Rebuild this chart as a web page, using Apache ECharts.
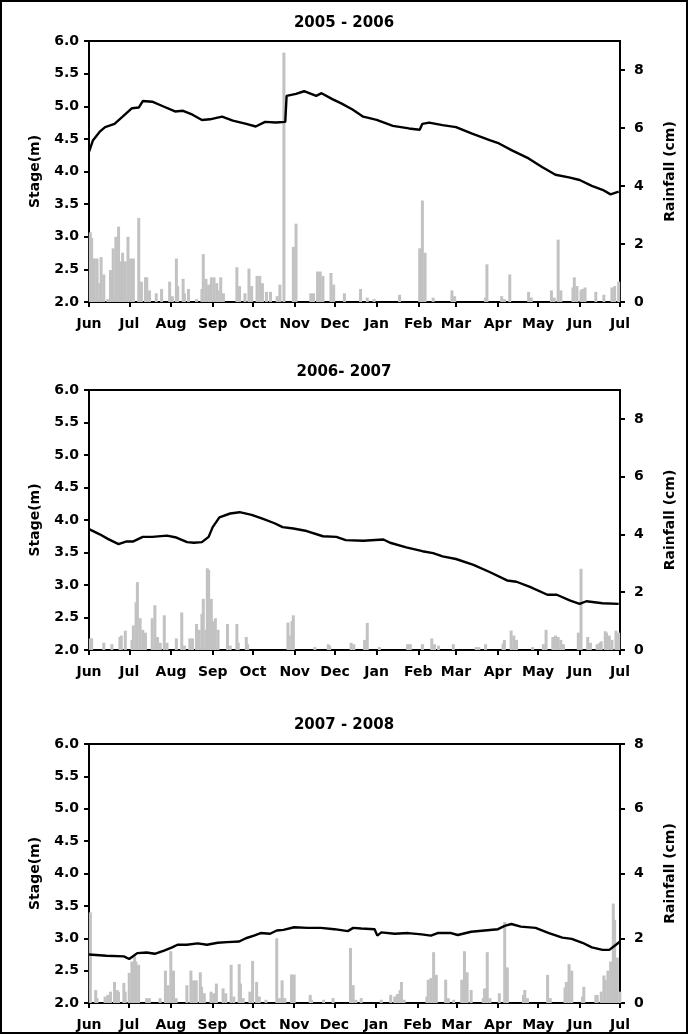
<!DOCTYPE html>
<html>
<head>
<meta charset="utf-8">
<script src="https://cdn.jsdelivr.net/npm/echarts@6.0.0/dist/echarts.min.js"></script>
<style>
  html, body { margin: 0; padding: 0; background: #fff; }
  #chart { width: 688px; height: 1034px; }
</style>
</head>
<body>
<div id="chart"></div>
<script>
// month ticks: day offset from 1 June of each season
const monthNames = ['Jun', 'Jul', 'Aug', 'Sep', 'Oct', 'Nov', 'Dec', 'Jan', 'Feb', 'Mar', 'Apr', 'May', 'Jun', 'Jul'];
const monthDays = [0, 30, 61, 92, 122, 153, 183, 214, 245, 273, 304, 334, 365, 395];
const monthDaysLeap = [0, 30, 61, 92, 122, 153, 183, 214, 245, 274, 305, 335, 366, 396];
const rainTicks = [0, 2, 4, 6, 8];

// 2005 - 2006  [day, stage m] / [day, rainfall cm]
const stage0506 = [[0,4.30],[3,4.48],[8,4.61],[12,4.68],[19,4.73],[25,4.84],[32,4.97],[37,4.98],[40,5.08],[47,5.07],[55,5.00],[64,4.92],[70,4.93],[77,4.87],[84,4.79],[90,4.80],[99,4.84],[107,4.78],[117,4.73],[124,4.69],[131,4.76],[139,4.75],[146,4.76],[147,5.16],[154,5.19],[160,5.23],[169,5.16],[173,5.20],[181,5.11],[188,5.04],[196,4.95],[204,4.84],[214,4.79],[226,4.70],[238,4.66],[246,4.64],[248,4.73],[253,4.75],[263,4.71],[273,4.68],[285,4.58],[298,4.48],[305,4.43],[315,4.32],[327,4.20],[337,4.07],[347,3.95],[357,3.91],[365,3.87],[374,3.78],[382,3.72],[388,3.65],[394,3.69]];
const rain0506 = [[1,2.4],[2,2.2],[4,1.5],[6,1.5],[8,0.65],[9,1.55],[11,0.95],[14,0.1],[16,1.1],[18,1.85],[20,2.25],[22,2.6],[24,1.4],[25,1.7],[27,1.4],[29,2.25],[31,1.5],[33,1.5],[37,2.9],[39,0.7],[42,0.85],[43,0.85],[45,0.4],[50,0.3],[54,0.45],[60,0.7],[62,0.2],[65,1.5],[66,0.55],[70,0.8],[71,0.3],[74,0.45],[80,0.1],[84,0.45],[85,1.65],[87,0.8],[89,0.6],[91,0.85],[93,0.85],[95,0.65],[96,0.4],[98,0.85],[100,0.3],[110,1.2],[112,0.55],[116,0.3],[119,1.15],[121,0.55],[125,0.9],[127,0.9],[129,0.65],[132,0.35],[135,0.35],[140,0.2],[142,0.6],[145,8.6],[152,1.9],[154,2.7],[165,0.3],[167,0.3],[170,1.05],[172,1.05],[174,0.9],[180,1.0],[182,0.6],[190,0.3],[202,0.45],[207,0.15],[212,0.1],[231,0.25],[246,1.85],[248,3.5],[250,1.7],[256,0.15],[270,0.4],[272,0.2],[295,0.15],[296,1.3],[307,0.2],[309,0.1],[313,0.95],[327,0.35],[329,0.15],[344,0.4],[346,0.15],[349,2.15],[351,0.4],[360,0.5],[361,0.85],[363,0.55],[366,0.4],[367,0.45],[369,0.5],[377,0.35],[383,0.25],[389,0.5],[391,0.55],[394,0.7]];

// 2006 - 2007
const stage0607 = [[0,3.86],[8,3.78],[14,3.71],[22,3.63],[28,3.67],[33,3.67],[40,3.74],[47,3.74],[58,3.76],[65,3.73],[73,3.66],[78,3.65],[84,3.66],[89,3.74],[92,3.89],[97,4.04],[105,4.10],[112,4.12],[121,4.08],[129,4.02],[138,3.95],[144,3.89],[152,3.87],[162,3.83],[174,3.75],[184,3.74],[191,3.69],[204,3.68],[219,3.70],[224,3.65],[236,3.58],[248,3.52],[256,3.49],[263,3.44],[273,3.40],[286,3.31],[298,3.20],[311,3.07],[318,3.05],[328,2.97],[341,2.85],[348,2.85],[358,2.76],[365,2.71],[370,2.75],[382,2.72],[394,2.71]];
const rain0607 = [[1,0.4],[2,0.4],[11,0.25],[17,0.2],[23,0.45],[24,0.5],[27,0.67],[32,0.35],[33,0.85],[35,1.65],[36,2.35],[38,1.1],[40,0.7],[42,0.6],[47,1.1],[49,1.55],[51,0.45],[53,0.25],[56,1.2],[58,0.25],[65,0.4],[69,1.3],[71,0.15],[75,0.4],[77,0.4],[80,0.9],[82,0.7],[84,1.25],[85,1.77],[87,0.7],[88,2.83],[89,2.77],[91,1.77],[92,1.0],[94,1.1],[96,0.7],[103,0.9],[105,0.15],[110,0.9],[111,0.25],[117,0.45],[118,0.2],[148,0.95],[149,0.5],[151,1.0],[152,1.2],[168,0.1],[178,0.2],[179,0.15],[195,0.25],[197,0.2],[205,0.35],[207,0.94],[216,0.1],[237,0.2],[239,0.2],[248,0.2],[255,0.4],[257,0.2],[260,0.15],[271,0.2],[288,0.1],[290,0.1],[295,0.2],[308,0.22],[309,0.35],[314,0.67],[316,0.5],[318,0.35],[330,0.1],[338,0.2],[340,0.7],[345,0.45],[347,0.5],[349,0.45],[351,0.35],[353,0.2],[364,0.6],[366,2.81],[371,0.45],[373,0.25],[378,0.2],[380,0.25],[381,0.3],[384,0.65],[385,0.6],[387,0.5],[389,0.35],[392,0.67],[394,0.6]];

// 2007 - 2008
const stage0708 = [[0,2.75],[13,2.73],[26,2.72],[30,2.68],[36,2.77],[43,2.78],[49,2.76],[56,2.81],[62,2.86],[66,2.90],[73,2.90],[81,2.92],[88,2.90],[96,2.93],[103,2.94],[112,2.95],[117,3.00],[123,3.04],[128,3.08],[135,3.07],[140,3.12],[145,3.13],[153,3.17],[163,3.16],[173,3.16],[183,3.14],[193,3.11],[197,3.16],[203,3.15],[213,3.14],[215,3.04],[218,3.09],[228,3.07],[238,3.08],[248,3.06],[255,3.04],[260,3.08],[270,3.08],[275,3.05],[285,3.10],[295,3.12],[305,3.14],[310,3.19],[315,3.22],[322,3.18],[333,3.16],[343,3.08],[353,3.01],[360,2.99],[368,2.93],[375,2.86],[383,2.82],[388,2.82],[393,2.90],[396,2.95]];
const rain0708 = [[1,2.8],[5,0.4],[6,0.15],[12,0.2],[14,0.25],[16,0.35],[19,0.65],[21,0.4],[22,0.35],[26,0.62],[27,0.35],[30,0.93],[32,1.28],[34,1.45],[35,1.28],[37,1.18],[43,0.15],[45,0.15],[53,0.15],[57,1.0],[59,0.55],[61,1.6],[63,1.0],[65,0.15],[73,0.55],[76,1.0],[78,0.7],[80,0.7],[83,0.95],[84,0.5],[86,0.3],[91,0.35],[93,0.3],[95,0.6],[100,0.45],[102,0.3],[106,1.18],[108,0.2],[112,1.2],[113,0.6],[115,0.15],[120,0.35],[122,1.3],[125,0.65],[127,0.2],[132,0.1],[140,2.0],[142,0.15],[144,0.7],[146,0.15],[151,0.88],[153,0.88],[165,0.25],[166,0.1],[175,0.1],[182,0.15],[195,1.7],[197,0.55],[199,0.1],[203,0.15],[218,0.1],[225,0.25],[228,0.2],[230,0.28],[232,0.4],[233,0.65],[235,0.1],[252,0.2],[253,0.72],[255,0.77],[257,1.57],[259,0.87],[266,0.72],[268,0.15],[272,0.1],[278,0.72],[280,1.6],[282,0.95],[285,0.4],[294,0.15],[295,0.45],[297,1.57],[299,0.15],[306,0.3],[310,2.5],[312,1.1],[324,0.25],[325,0.4],[327,0.15],[342,0.87],[344,0.15],[355,0.48],[356,0.65],[358,1.2],[360,1.0],[368,0.2],[369,0.5],[378,0.25],[379,0.25],[382,0.35],[384,0.85],[385,0.72],[387,1.0],[389,1.28],[391,3.07],[392,2.57],[394,1.4],[396,0.35]];

const FONT = 'DejaVu Sans';
const txt = { color: '#000', fontFamily: FONT, fontWeight: 'bold', fontSize: 14 };
const blackLine = { color: '#000', width: 2 };

const panels = [
    { title: '2005 - 2006', titleTop: 11, top: 41, height: 261, days: monthDays, stage: stage0506, rain: rain0506, rainMax: 9 },
    { title: '2006- 2007', titleTop: 360, top: 390, height: 260, days: monthDays, stage: stage0607, rain: rain0607, rainMax: 9 },
    { title: '2007 - 2008', titleTop: 713, top: 744, height: 259, days: monthDaysLeap, stage: stage0708, rain: rain0708, rainMax: 8 },
];

const option = { animation: false, title: [], grid: [], xAxis: [], yAxis: [], series: [] };

panels.forEach((p, i) => {
    option.title.push({
        text: p.title, left: 'center', top: p.titleTop,
        textStyle: Object.assign({}, txt, { fontSize: 15 }),
    });
    option.grid.push({
        left: 89, width: 531, top: p.top, height: p.height,
        show: true, borderColor: '#000', borderWidth: 2, backgroundColor: 'transparent',
    });
    option.xAxis.push({
        type: 'value', gridIndex: i, min: 0, max: p.days[p.days.length - 1],
        axisLine: { onZero: false, lineStyle: blackLine },
        axisTick: { customValues: p.days, length: 5, lineStyle: blackLine },
        axisLabel: Object.assign({
            customValues: p.days, margin: 15,
            formatter: (v) => monthNames[p.days.indexOf(v)],
        }, txt),
        splitLine: { show: false },
    });
    option.yAxis.push({
        type: 'value', gridIndex: i, position: 'left', min: 2, max: 6, interval: 0.5,
        name: 'Stage(m)', nameLocation: 'middle', nameGap: 47, nameTextStyle: txt,
        axisLine: { show: true, onZero: false, lineStyle: blackLine },
        axisTick: { show: true, length: 5, lineStyle: blackLine },
        axisLabel: Object.assign({ margin: 10, formatter: (v) => v.toFixed(1) }, txt),
        splitLine: { show: false },
    });
    option.yAxis.push({
        type: 'value', gridIndex: i, position: 'right', min: 0, max: p.rainMax, interval: 2,
        name: 'Rainfall (cm)', nameLocation: 'middle', nameGap: 43, nameTextStyle: txt,
        axisLine: { show: true, onZero: false, lineStyle: blackLine },
        axisTick: { show: true, customValues: rainTicks, length: 5, lineStyle: blackLine },
        axisLabel: Object.assign({ customValues: rainTicks, margin: 14 }, txt),
        splitLine: { show: false },
    });
    option.series.push({
        type: 'bar', xAxisIndex: i, yAxisIndex: 2 * i + 1, data: p.rain,
        barWidth: 3, itemStyle: { color: '#c2c2c2' }, z: 2,
    });
    option.series.push({
        type: 'line', xAxisIndex: i, yAxisIndex: 2 * i, data: p.stage,
        showSymbol: false, lineStyle: { color: '#000', width: 2.4 }, z: 3,
    });
});

// outer frame of the figure
option.graphic = [{
    type: 'rect', silent: true,
    shape: { x: 1, y: 1, width: 686, height: 1032 },
    style: { fill: 'transparent', stroke: '#000', lineWidth: 2 },
}];

const chart = echarts.init(document.getElementById('chart'), null, { renderer: 'canvas' });
chart.setOption(option);
</script>
</body>
</html>
